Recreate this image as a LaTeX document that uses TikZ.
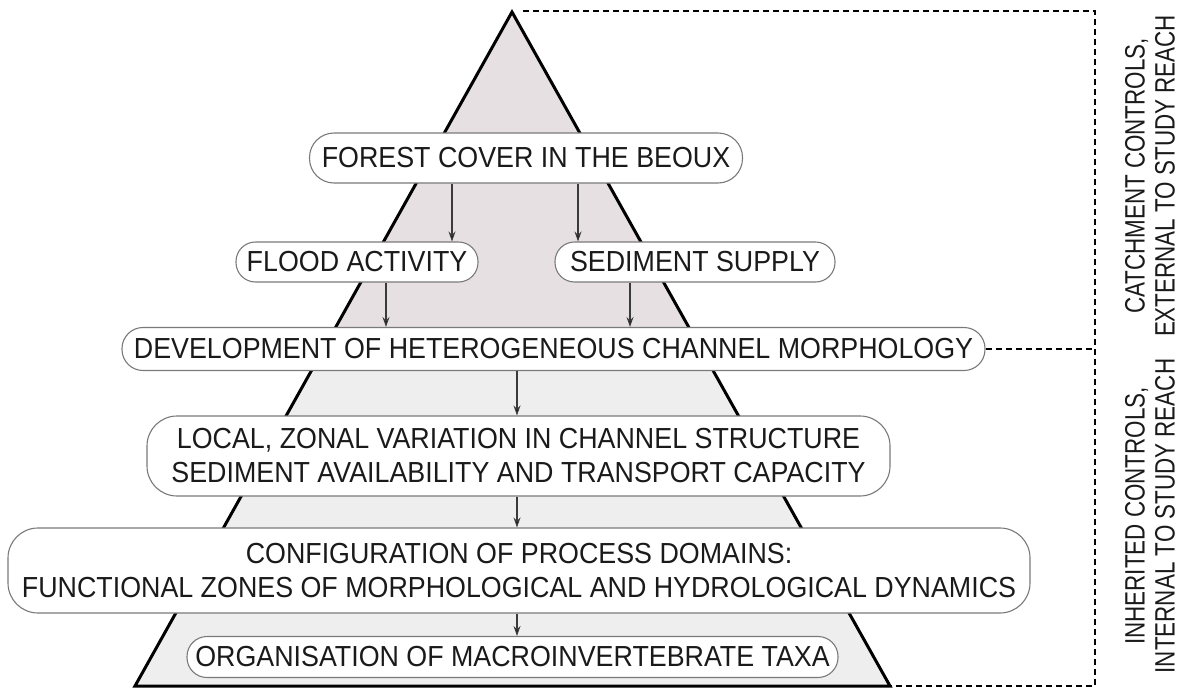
\documentclass[tikz,border=0pt]{standalone}
\usepackage{fontspec}
\setmainfont{Liberation Sans}
\newfontfamily\boxfont[FakeStretch=0.925]{Liberation Sans}
\newfontfamily\sidefont[FakeStretch=0.8]{Liberation Sans}
\usetikzlibrary{arrows.meta}
\definecolor{boxgray}{HTML}{7A7A7A}
\definecolor{upfill}{HTML}{E6E0E2}
\definecolor{lowfill}{HTML}{EEEEEE}
\definecolor{txt}{HTML}{1A1A1A}
\definecolor{arrgray}{HTML}{3A3A3A}
\begin{document}
\begin{tikzpicture}[x=1pt,y=-1pt,
  box/.style={draw=boxgray, line width=1.1pt, fill=white, inner sep=0pt,
    align=center, text=txt, font=\boxfont\fontsize{29}{34}\selectfont},
  pill/.style={box, rounded corners=19.5pt, minimum height=40pt},
  bigpill/.style={box, rounded corners=24.5pt, minimum height=50pt},
  rbox/.style={box, rounded corners=30pt},
  arr/.style={draw=arrgray, line width=1.1pt, -{Stealth[length=10pt,width=7pt,fill=black]}},
  dashline/.style={draw=black, line width=1.4pt, dash pattern=on 6pt off 4pt},
  sidetxt/.style={align=center, text=txt, inner sep=0pt,
    font=\sidefont\fontsize{28}{30}\selectfont}
]
\useasboundingbox[fill=white] (0,0) rectangle (1185,688);

% pyramid
\coordinate (apex) at (512,12);
\coordinate (bl) at (135,686);
\coordinate (br) at (890,686);
\coordinate (ml) at (323.5,349);
\coordinate (mr) at (701,349);
\fill[upfill] (apex) -- (ml) -- (mr) -- cycle;
\fill[lowfill] (ml) -- (bl) -- (br) -- (mr) -- cycle;
\draw[line width=3pt, line join=miter, miter limit=20] (apex) -- (bl) -- (br) -- cycle;

% boxes
\node[bigpill, minimum width=433pt] (forest) at (526,158) {FOREST COVER IN THE BEOUX};
\node[pill, minimum width=242pt] (flood) at (357,262) {FLOOD ACTIVITY};
\node[pill, minimum width=280pt] (sed) at (695,262) {SEDIMENT SUPPLY};
\node[box, rounded corners=21pt, minimum height=43pt, minimum width=863pt] (dev) at (553.5,349) {DEVELOPMENT OF HETEROGENEOUS CHANNEL MORPHOLOGY};
\node[rbox, minimum height=80pt, minimum width=743pt] (local) at (518.5,456) {LOCAL, ZONAL VARIATION IN CHANNEL STRUCTURE\\SEDIMENT AVAILABILITY AND TRANSPORT CAPACITY};
\node[rbox, minimum height=85pt, minimum width=1022pt] (config) at (519,570.5) {CONFIGURATION OF PROCESS DOMAINS:\\FUNCTIONAL ZONES OF MORPHOLOGICAL AND HYDROLOGICAL DYNAMICS};
\node[pill, minimum width=651pt, minimum height=41pt, rounded corners=20pt] (org) at (512.5,657) {ORGANISATION OF MACROINVERTEBRATE TAXA};

% arrows
\coordinate (a1) at (452,0);
\coordinate (a2) at (578,0);
\coordinate (a3) at (386,0);
\coordinate (a4) at (630,0);
\coordinate (a5) at (517,0);
\draw[arr] (forest.south -| a1) -- (flood.north -| a1);
\draw[arr] (forest.south -| a2) -- (sed.north -| a2);
\draw[arr] (flood.south -| a3) -- (dev.north -| a3);
\draw[arr] (sed.south -| a4) -- (dev.north -| a4);
\draw[arr] (dev.south -| a5) -- (local.north -| a5);
\draw[arr] (local.south -| a5) -- (config.north -| a5);
\draw[arr] (config.south -| a5) -- (org.north -| a5);

% dashed brackets
\coordinate (ctop) at (1095,11);
\coordinate (cbot) at (1095,686);
\coordinate (dstart) at (523,11);
\draw[dashline] (dstart) -- (ctop) -- (cbot) -- (br);
\draw[dashline] (dev.east) -- (dev.east -| ctop);

% side labels
\node[sidetxt, rotate=90] (ext) at (1150,176) {CATCHMENT CONTROLS,\\EXTERNAL TO STUDY REACH};
\node[sidetxt, rotate=90] (int) at (1150,516) {INHERITED CONTROLS,\\INTERNAL TO STUDY REACH};
\end{tikzpicture}
\end{document}
